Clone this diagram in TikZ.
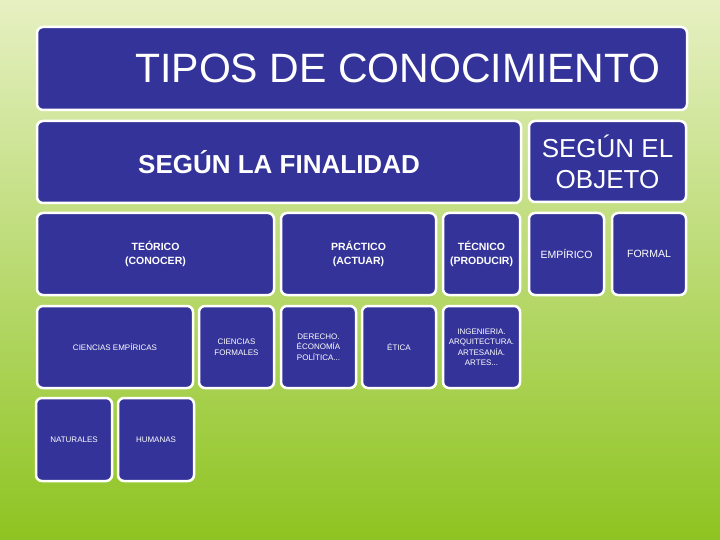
\documentclass[tikz,border=0pt]{standalone}
\usepackage{fontspec}
\setmainfont{Liberation Sans}
\definecolor{boxblue}{HTML}{333399}
\definecolor{bgtop}{HTML}{E6F0C2}
\definecolor{bgbot}{HTML}{8EC421}
\tikzset{
  box/.style={draw=white, line width=2.5pt, fill=boxblue, rounded corners=6pt,
    inner sep=0pt, text=white, align=center},
  bigtitle/.style={font=\fontsize{41}{45}\selectfont},
  midtitle/.style={font=\bfseries\fontsize{26}{31}\selectfont},
  objtitle/.style={font=\fontsize{26}{31}\selectfont},
  lvltwo/.style={font=\bfseries\fontsize{10.5}{14}\selectfont},
  lvlobj/.style={font=\fontsize{10.5}{13}\selectfont},
  lvlsmall/.style={font=\fontsize{8}{10.5}\selectfont},
}
\begin{document}
\begin{tikzpicture}[x=1pt,y=-1pt]
\useasboundingbox (0,0) rectangle (720,540);
\shade[top color=bgtop, bottom color=bgbot] (0,0) rectangle (720,540);

\node[box, bigtitle, minimum width=650, minimum height=83] (title) at (362,68.5) {\hspace*{72pt}TIPOS DE CONOCIMIENTO};

\node[box, midtitle, minimum width=484, minimum height=82] (finalidad) at (279,162) {SEGÚN LA FINALIDAD};
\node[box, objtitle, minimum width=157, minimum height=81] (objeto) at (607.5,161.5) {SEGÚN EL\\OBJETO};

\node[box, lvltwo, minimum width=237, minimum height=82] (teorico) at (155.5,254) {TEÓRICO\\(CONOCER)};
\node[box, lvltwo, minimum width=155, minimum height=82] (practico) at (358.5,254) {PRÁCTICO\\(ACTUAR)};
\node[box, lvltwo, minimum width=77, minimum height=82] (tecnico) at (481.5,254) {TÉCNICO\\(PRODUCIR)};
\node[box, lvlobj, minimum width=75, minimum height=82] (empirico) at (566.5,254) {EMPÍRICO};
\node[box, lvlobj, minimum width=74, minimum height=82] (formal) at (649,254) {FORMAL};

\node[box, lvlsmall, minimum width=156, minimum height=82] (cemp) at (115,347) {CIENCIAS EMPÍRICAS};
\node[box, lvlsmall, minimum width=75, minimum height=82] (cform) at (236.5,347) {CIENCIAS\\FORMALES};
\node[box, lvlsmall, minimum width=75, minimum height=82] (derecho) at (318.5,347) {DERECHO.\\ÉCONOMÍA\\POLÍTICA...};
\node[box, lvlsmall, minimum width=74, minimum height=82] (etica) at (399,347) {ÉTICA};
\node[box, lvlsmall, minimum width=77, minimum height=82] (ingen) at (481.5,347) {INGENIERIA.\\ARQUITECTURA.\\ARTESANÍA.\\ARTES...};

\node[box, lvlsmall, minimum width=76, minimum height=83] (naturales) at (74,439.5) {NATURALES};
\node[box, lvlsmall, minimum width=76, minimum height=83] (humanas) at (156,439.5) {HUMANAS};
\end{tikzpicture}
\end{document}
